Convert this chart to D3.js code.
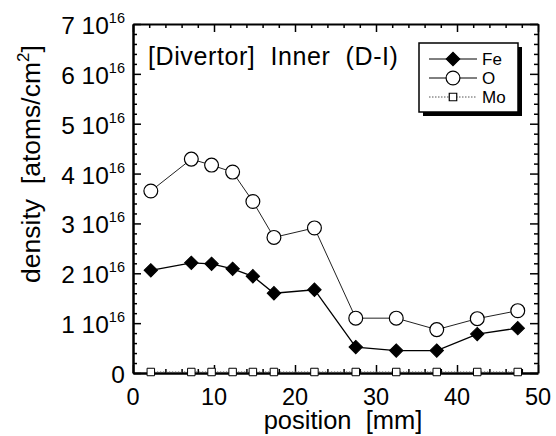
<!DOCTYPE html>
<html>
<head>
<meta charset="utf-8">
<script src="https://cdn.jsdelivr.net/npm/d3@7"></script>
<style>
  body { margin: 0; background: #fff; }
  text { font-family: "Liberation Sans", Arial, sans-serif; fill: #000; }
</style>
</head>
<body>
<script>
// data (density in units of 1e16 atoms/cm2)
var positions = [2.2, 7.2, 9.7, 12.3, 14.8, 17.4, 22.4, 27.5, 32.5, 37.5, 42.5, 47.5];
var fe = [2.06, 2.21, 2.19, 2.09, 1.94, 1.60, 1.67, 0.52, 0.45, 0.45, 0.78, 0.90];
var ox = [3.65, 4.29, 4.17, 4.03, 3.44, 2.72, 2.91, 1.10, 1.10, 0.87, 1.09, 1.25];
var mo = [0.02, 0.02, 0.02, 0.02, 0.02, 0.02, 0.02, 0.02, 0.02, 0.02, 0.02, 0.02];
var xTicks = [0, 10, 20, 30, 40, 50];
var yTicks = [0, 1, 2, 3, 4, 5, 6, 7];
var seriesNames = ["Fe", "O", "Mo"];

// plot frame
var frame = { left: 133, right: 538, top: 24, bottom: 373 };

var svg = d3.select("body").append("svg")
    .attr("width", 556).attr("height", 436);

var x = d3.scaleLinear().domain([0, 50]).range([frame.left, frame.right]);
var y = d3.scaleLinear().domain([0, 7]).range([frame.bottom, frame.top]);

// minor ticks every 2 mm and every 0.2e16
var xMinor = d3.range(0, 50.01, 2);
var yMinor = d3.range(0, 7.01, 0.2);

// axes, ticks pointing inward
var gb = svg.append("g").attr("transform", "translate(0," + frame.bottom + ")")
    .call(d3.axisTop(x).tickValues(xMinor).tickSizeOuter(0).tickFormat(""));
var gt = svg.append("g").attr("transform", "translate(0," + frame.top + ")")
    .call(d3.axisBottom(x).tickValues(xMinor).tickSizeOuter(0).tickFormat(""));
var gl = svg.append("g").attr("transform", "translate(" + frame.left + ",0)")
    .call(d3.axisRight(y).tickValues(yMinor).tickSizeOuter(0).tickFormat(""));
var gr = svg.append("g").attr("transform", "translate(" + frame.right + ",0)")
    .call(d3.axisLeft(y).tickValues(yMinor).tickSizeOuter(0).tickFormat(""));

gb.selectAll(".tick line").attr("y2", (d, i) => (i % 5 === 0 ? -8 : -4));
gt.selectAll(".tick line").attr("y2", (d, i) => (i % 5 === 0 ? 8 : 4));
gl.selectAll(".tick line").attr("x2", (d, i) => (i % 5 === 0 ? 8 : 4));
gr.selectAll(".tick line").attr("x2", (d, i) => (i % 5 === 0 ? -8 : -4));

[gb, gt, gl, gr].forEach(function(g) {
    g.selectAll(".tick line").attr("stroke", "#000").attr("stroke-width", 1.5);
    g.select(".domain").attr("stroke", "#000");
});
gb.select(".domain").attr("stroke-width", 2.5);
gl.select(".domain").attr("stroke-width", 2.5);
gt.select(".domain").attr("stroke-width", 1.8);
gr.select(".domain").attr("stroke-width", 1.8);

// x tick labels
svg.append("g").selectAll("text").data(xTicks).join("text")
    .attr("x", d => x(d)).attr("y", 405)
    .attr("text-anchor", "middle")
    .style("font-size", "23.5px")
    .text(d => d);

// y tick labels
var yl = svg.append("g").selectAll("text").data(yTicks).join("text")
    .attr("x", 125).attr("y", d => y(d) + 10)
    .attr("text-anchor", "end")
    .style("font-size", "24.5px");
yl.each(function(d) {
    var t = d3.select(this);
    if (d === 0) {
        t.text("0");
    } else {
        t.append("tspan").text(d + " 10");
        t.append("tspan").attr("dy", -11).style("font-size", "14.5px").text("16");
    }
});

// axis titles
svg.append("text")
    .attr("x", 343).attr("y", 429)
    .attr("text-anchor", "middle")
    .style("font-size", "25.5px")
    .text("position\u00a0\u00a0[mm]");

var yt = svg.append("text")
    .attr("transform", "translate(40,164) rotate(-90)")
    .attr("text-anchor", "middle")
    .style("font-size", "26.5px");
yt.append("tspan").text("density\u00a0\u00a0[atoms/cm");
yt.append("tspan").attr("dy", -11).style("font-size", "17px").text("2");
yt.append("tspan").attr("dy", 11).text("]");

// chart label
svg.append("text")
    .attr("x", 148).attr("y", 65)
    .style("font-size", "25px")
    .style("letter-spacing", "0.6px")
    .text("[Divertor]\u00a0\u00a0Inner\u00a0\u00a0(D-I)");

// series
var line = d3.line().x((d, i) => x(positions[i])).y(d => y(d));
var plot = svg.append("g");

plot.append("path").datum(mo).attr("d", line)
    .attr("fill", "none").attr("stroke", "#555").attr("stroke-width", 1)
    .attr("stroke-dasharray", "1.5,1.5");
plot.append("path").datum(ox).attr("d", line)
    .attr("fill", "none").attr("stroke", "#222").attr("stroke-width", 1);
plot.append("path").datum(fe).attr("d", line)
    .attr("fill", "none").attr("stroke", "#000").attr("stroke-width", 1.3);

var diamond = d3.symbol().type(d3.symbolSquare).size(90);
var circle = d3.symbol().type(d3.symbolCircle).size(150);
var square = d3.symbol().type(d3.symbolSquare).size(56);

plot.append("g").selectAll("path").data(mo).join("path")
    .attr("d", square)
    .attr("transform", (d, i) => "translate(" + x(positions[i]) + "," + y(d) + ")")
    .attr("fill", "#fff").attr("stroke", "#000").attr("stroke-width", 1);
plot.append("g").selectAll("path").data(ox).join("path")
    .attr("d", circle)
    .attr("transform", (d, i) => "translate(" + x(positions[i]) + "," + y(d) + ")")
    .attr("fill", "#fff").attr("stroke", "#000").attr("stroke-width", 1.2);
plot.append("g").selectAll("path").data(fe).join("path")
    .attr("d", diamond)
    .attr("transform", (d, i) => "translate(" + x(positions[i]) + "," + y(d) + ") rotate(45)")
    .attr("fill", "#000").attr("stroke", "#000").attr("stroke-width", 1);

// legend box with drop shadow
var lg = svg.append("g");
lg.append("rect").attr("x", 423).attr("y", 47).attr("width", 99).attr("height", 69).attr("fill", "#000");
lg.append("rect").attr("x", 419).attr("y", 43).attr("width", 99).attr("height", 69)
    .attr("fill", "#fff").attr("stroke", "#000").attr("stroke-width", 1.5);

var legendY = [59, 78, 97];
var lgItems = lg.selectAll("g.item").data(seriesNames).join("g").attr("class", "item")
    .attr("transform", (d, i) => "translate(0," + legendY[i] + ")");
lgItems.append("line")
    .attr("x1", 429).attr("x2", 477).attr("y1", 0).attr("y2", 0)
    .attr("stroke", (d, i) => (i === 2 ? "#555" : "#000"))
    .attr("stroke-width", 1)
    .attr("stroke-dasharray", (d, i) => (i === 2 ? "1.5,1.5" : null));
lgItems.append("path")
    .attr("d", (d, i) => (i === 0 ? diamond() : i === 1 ? circle() : square()))
    .attr("transform", (d, i) => "translate(453,0)" + (i === 0 ? " rotate(45)" : ""))
    .attr("fill", (d, i) => (i === 0 ? "#000" : "#fff"))
    .attr("stroke", "#000").attr("stroke-width", 1.2);
lgItems.append("text")
    .attr("x", 482).attr("y", 6)
    .style("font-size", "17px")
    .text(d => d);
</script>
</body>
</html>
